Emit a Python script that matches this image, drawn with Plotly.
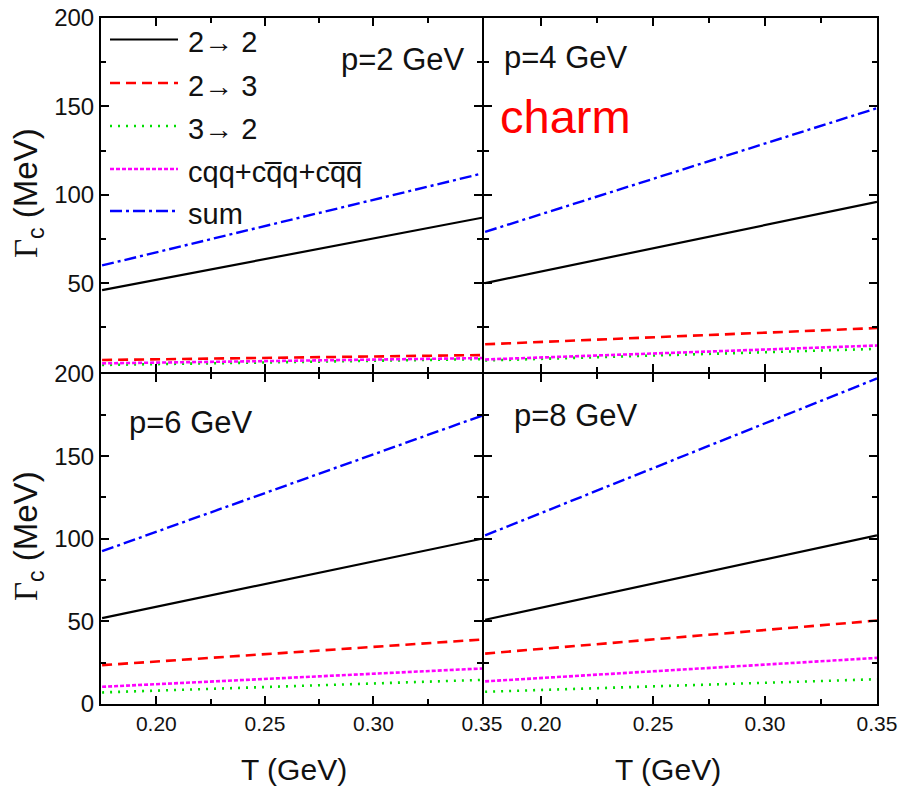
import plotly.graph_objects as go

# Temperature grid (GeV)
T = [0.175, 0.35]

panel_labels = ["p=2 GeV", "p=4 GeV", "p=6 GeV", "p=8 GeV"]

# Charm damping rate Γc (MeV) at each temperature, one pair per panel (p = 2, 4, 6, 8 GeV)
g_22 = [[46.0, 87.0], [50.0, 96.0], [52.0, 100.0], [51.0, 102.0]]
g_23 = [[6.5, 9.3], [15.4, 24.6], [23.5, 39.0], [30.5, 50.5]]
g_32 = [[3.7, 7.0], [6.2, 12.8], [7.0, 14.6], [7.4, 15.0]]
g_baryon = [[4.6, 7.6], [6.8, 14.7], [10.4, 21.5], [13.7, 27.9]]
g_sum = [[60.0, 112.0], [79.0, 149.0], [92.5, 174.5], [102.0, 197.0]]

series_names = ["2\u2192 2", "2\u2192 3", "3\u2192 2",
                "cqq+cq\u0305q+cq\u0305q\u0305", "sum"]
series_data = [g_22, g_23, g_32, g_baryon, g_sum]

x_ticks = [0.20, 0.25, 0.30, 0.35]
y_ticks_top = [50, 100, 150, 200]
y_ticks_bottom = [0, 50, 100, 150, 200]

styles = [
    dict(color="#000000", width=2.2, dash="solid"),
    dict(color="#ff0000", width=2.6, dash="10px,6px"),
    dict(color="#00dd00", width=2.6, dash="2px,6px"),
    dict(color="#ff00ff", width=2.6, dash="4px,2px"),
    dict(color="#0000ff", width=2.4, dash="12px,4px,3px,4px"),
]

W, H = 902, 790
L, R, TOP, B = 101, 25, 18, 86
PW, PH = W - L - R, H - TOP - B
FRAME = 2  # axis line width
x_split = (483 - L) / PW
y_split = (704 - 372.5) / PH
# axis lines sit half a line width outside each domain; pull the inner
# edges apart so neighbouring panels share one frame line
dx = (FRAME / 2) / PW
dy = (FRAME / 2) / PH


def px(x):
    return (x - L) / PW


def py(y):
    return (H - B - y) / PH


fig = go.Figure()

# panel index -> (xaxis id, yaxis id)
axes_ids = [("x", "y"), ("x2", "y2"), ("x3", "y3"), ("x4", "y4")]

for k, (xa, ya) in enumerate(axes_ids):
    for name, data, st in zip(series_names, series_data, styles):
        fig.add_trace(go.Scatter(
            x=T, y=data[k], mode="lines", name=name, showlegend=False,
            line=st, xaxis=xa, yaxis=ya, hoverinfo="skip"))

tick_font = dict(family="Liberation Sans, Arial, sans-serif", size=24, color="#111")
xtick_font = dict(family="Liberation Sans, Arial, sans-serif", size=21, color="#111")


def xaxis_cfg(domain, anchor, labels):
    return dict(
        domain=domain, anchor=anchor, range=[0.1745, 0.35],
        tickmode="array", tickvals=x_ticks, tickformat=".2f",
        showticklabels=labels, tickfont=xtick_font, automargin=False,
        ticks="inside", ticklen=8, tickwidth=1.5, tickcolor="#000",
        minor=dict(tickmode="array", tickvals=[0.225, 0.275, 0.325],
                   ticks="inside", ticklen=5, tickwidth=1.5, tickcolor="#000"),
        showline=True, linecolor="#000", linewidth=FRAME, mirror="ticks",
        showgrid=False, zeroline=False, fixedrange=True)


def yaxis_cfg(domain, anchor, labels, tickvals):
    return dict(
        domain=domain, anchor=anchor, range=[0, 200],
        tickmode="array", tickvals=tickvals,
        showticklabels=labels, tickfont=tick_font, automargin=False,
        ticks="inside", ticklen=8, tickwidth=1.5, tickcolor="#000",
        minor=dict(tickmode="array", tickvals=[25, 75, 125, 175],
                   ticks="inside", ticklen=5, tickwidth=1.5, tickcolor="#000"),
        showline=True, linecolor="#000", linewidth=FRAME, mirror="ticks",
        showgrid=False, zeroline=False, fixedrange=True)


left_dom = [0, x_split - dx]
right_dom = [x_split + dx, 1]
top_dom = [y_split + dy, 1]
bottom_dom = [0, y_split - dy]

fig.update_layout(
    width=W, height=H,
    margin=dict(l=L, r=R, t=TOP, b=B, pad=0, autoexpand=False),
    paper_bgcolor="white", plot_bgcolor="white",
    font=dict(family="Liberation Sans, Arial, sans-serif", color="#111"),
    xaxis=xaxis_cfg(left_dom, "y", False),
    yaxis=yaxis_cfg(top_dom, "x", True, y_ticks_top),
    xaxis2=xaxis_cfg(right_dom, "y2", False),
    yaxis2=yaxis_cfg(top_dom, "x2", False, y_ticks_top),
    xaxis3=xaxis_cfg(left_dom, "y3", True),
    yaxis3=yaxis_cfg(bottom_dom, "x3", True, y_ticks_bottom),
    xaxis4=xaxis_cfg(right_dom, "y4", True),
    yaxis4=yaxis_cfg(bottom_dom, "x4", False, y_ticks_bottom),
)

annotations = []
shapes = []

# Panel labels
label_pos = [(467, 60, "right"), (502, 57, "left"), (127, 423, "left"), (512, 415, "left")]
for text, (x, y, anc) in zip(panel_labels, label_pos):
    annotations.append(dict(
        x=px(x), y=py(y), xref="paper", yref="paper", text=text, showarrow=False,
        xanchor=anc, yanchor="middle", font=dict(size=31, color="#111")))

annotations.append(dict(
    x=px(498), y=py(117), xref="paper", yref="paper", text="charm", showarrow=False,
    xanchor="left", yanchor="middle", font=dict(size=47, color="#ff0000")))

# Legend drawn inside the upper-left panel
legend_y = [39.5, 83, 126, 169, 211]
for name, st, y in zip(series_names, styles, legend_y):
    shapes.append(dict(type="line", xref="paper", yref="paper",
                       x0=px(110), x1=px(178), y0=py(y), y1=py(y),
                       line=dict(color=st["color"], width=st["width"], dash=st["dash"])))
    annotations.append(dict(
        x=px(186), y=py(y + 3), xref="paper", yref="paper", text=name, showarrow=False,
        xanchor="left", yanchor="middle", font=dict(size=29, color="#111")))

# Axis titles
ytitle = ("<span style='font-family:Liberation Serif, Times New Roman, serif'>\u0393</span>"
          "<sub>c</sub> (MeV)")
for yc in (193, 536):
    annotations.append(dict(
        x=px(28), y=py(yc), xref="paper", yref="paper", text=ytitle, showarrow=False,
        textangle=-90, xanchor="center", yanchor="middle", font=dict(size=33, color="#111")))

for xc in (294, 668):
    annotations.append(dict(
        x=px(xc), y=py(770), xref="paper", yref="paper", text="T (GeV)", showarrow=False,
        xanchor="center", yanchor="middle",
        font=dict(family="Liberation Sans, Arial, sans-serif", size=30, color="#111")))

fig.update_layout(annotations=annotations, shapes=shapes)

fig.write_html("out.html")
